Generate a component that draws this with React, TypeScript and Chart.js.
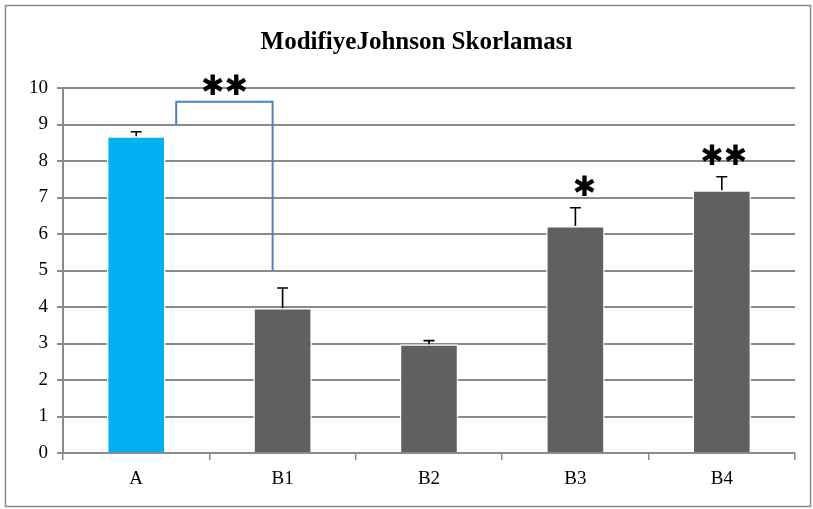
import React, { useEffect, useRef } from "react";
import { Chart, registerables } from "chart.js";

Chart.register(...registerables);

// Group names, mean scores and upper error (SEM) for the Modified Johnson score
const categories = ["A", "B1", "B2", "B3", "B4"];
const means = [8.68, 3.97, 2.98, 6.22, 7.2];
const upperErrors = [0.12, 0.55, 0.1, 0.5, 0.37];
const significance = ["", "", "", "✱", "✱✱"];
const barColors = ["#00B0F0", "#606060", "#606060", "#606060", "#606060"];
const yTicks = [0, 1, 2, 3, 4, 5, 6, 7, 8, 9, 10];

// Comparison bracket between A and B1
const bracketGroups = ["A", "B1"];
const bracketLevels = [9, 9.62, 5];
const bracketLabel = "✱✱";

const titleText = "ModifiyeJohnson Skorlaması";

const SERIF = "'Liberation Serif', 'Times New Roman', serif";
const GRID = "#8a8a8a";

const annotations = {
  id: "annotations",
  afterDatasetsDraw(chart: any) {
    const { ctx, scales } = chart;
    const x = scales.x;
    const y = scales.y;
    const meta = chart.getDatasetMeta(0);

    ctx.save();
    // error bars (upper half only)
    ctx.strokeStyle = "#000";
    ctx.lineWidth = 1.6;
    meta.data.forEach((bar: any, i: number) => {
      const cx = bar.x;
      const top = y.getPixelForValue(means[i]);
      const et = y.getPixelForValue(means[i] + upperErrors[i]);
      ctx.beginPath();
      ctx.moveTo(cx, top);
      ctx.lineTo(cx, et);
      ctx.moveTo(cx - 5.5, et);
      ctx.lineTo(cx + 5.5, et);
      ctx.stroke();
    });

    // significance marks above groups
    ctx.fillStyle = "#000";
    ctx.textAlign = "center";
    ctx.textBaseline = "middle";
    ctx.font = "bold 28px 'DejaVu Sans'";
    meta.data.forEach((bar: any, i: number) => {
      if (!significance[i]) return;
      const et = y.getPixelForValue(means[i] + upperErrors[i]);
      const dx = significance[i].length === 1 ? 9 : 2;
      ctx.fillText(significance[i], bar.x + dx, et - 19);
    });

    // bracket
    const xl = x.getPixelForValue(categories.indexOf(bracketGroups[0])) + 40;
    const xr = x.getPixelForValue(categories.indexOf(bracketGroups[1])) - 10;
    const yl = y.getPixelForValue(bracketLevels[0]);
    const yt = y.getPixelForValue(bracketLevels[1]);
    const yr = y.getPixelForValue(bracketLevels[2]);
    ctx.strokeStyle = "#4F81BD";
    ctx.lineWidth = 2;
    ctx.beginPath();
    ctx.moveTo(xl, yl);
    ctx.lineTo(xl, yt);
    ctx.lineTo(xr, yt);
    ctx.lineTo(xr, yr);
    ctx.stroke();
    ctx.fillText(bracketLabel, (xl + xr) / 2, yt - 14);
    ctx.restore();
  },
  afterDraw(chart: any) {
    const { ctx, width, height } = chart;
    ctx.save();
    ctx.fillStyle = "#000";
    ctx.textAlign = "center";
    ctx.textBaseline = "middle";
    ctx.font = `bold 25px ${SERIF}`;
    ctx.fillText(titleText, width / 2 + 10, 43);
    ctx.strokeStyle = "#8c8c8c";
    ctx.lineWidth = 1.5;
    ctx.strokeRect(5.5, 5.5, width - 8, height - 8);
    ctx.restore();
  },
};

export default function App() {
  const canvasRef = useRef<HTMLCanvasElement | null>(null);

  useEffect(() => {
    document.body.style.margin = "0";
    const canvas = canvasRef.current;
    if (!canvas) return;
    const chart = new Chart(canvas, {
      type: "bar",
      data: {
        labels: categories,
        datasets: [
          {
            data: means,
            backgroundColor: barColors,
            borderColor: "#ffffff",
            borderWidth: 1.5,
            categoryPercentage: 1,
            barPercentage: 0.4,
          },
        ],
      },
      options: {
        animation: false,
        responsive: true,
        maintainAspectRatio: false,
        layout: { padding: { top: 88, right: 18, bottom: 0, left: 0 } },
        plugins: {
          legend: { display: false },
          title: { display: false },
          tooltip: { enabled: false },
        },
        scales: {
          x: {
            grid: {
              drawOnChartArea: false,
              color: GRID,
              lineWidth: 1.5,
              tickLength: 7,
            },
            border: { color: GRID, width: 2 },
            ticks: {
              color: "#000",
              font: { family: SERIF, size: 19 },
              padding: 8,
            },
            afterFit(scale: any) {
              scale.height = 56;
            },
          },
          y: {
            min: 0,
            max: 10,
            afterBuildTicks(scale: any) {
              scale.ticks = yTicks.map((v) => ({ value: v }));
            },
            grid: {
              color: GRID,
              lineWidth: 2,
              tickLength: 6,
            },
            border: { color: GRID, width: 2 },
            ticks: {
              color: "#000",
              font: { family: SERIF, size: 19 },
              padding: 9,
            },
            afterFit(scale: any) {
              scale.width = 63;
            },
          },
        },
      },
      plugins: [annotations],
    });
    return () => chart.destroy();
  }, []);

  return (
    <div style={{ width: 813, height: 509, background: "#fff" }}>
      <canvas ref={canvasRef} />
    </div>
  );
}
